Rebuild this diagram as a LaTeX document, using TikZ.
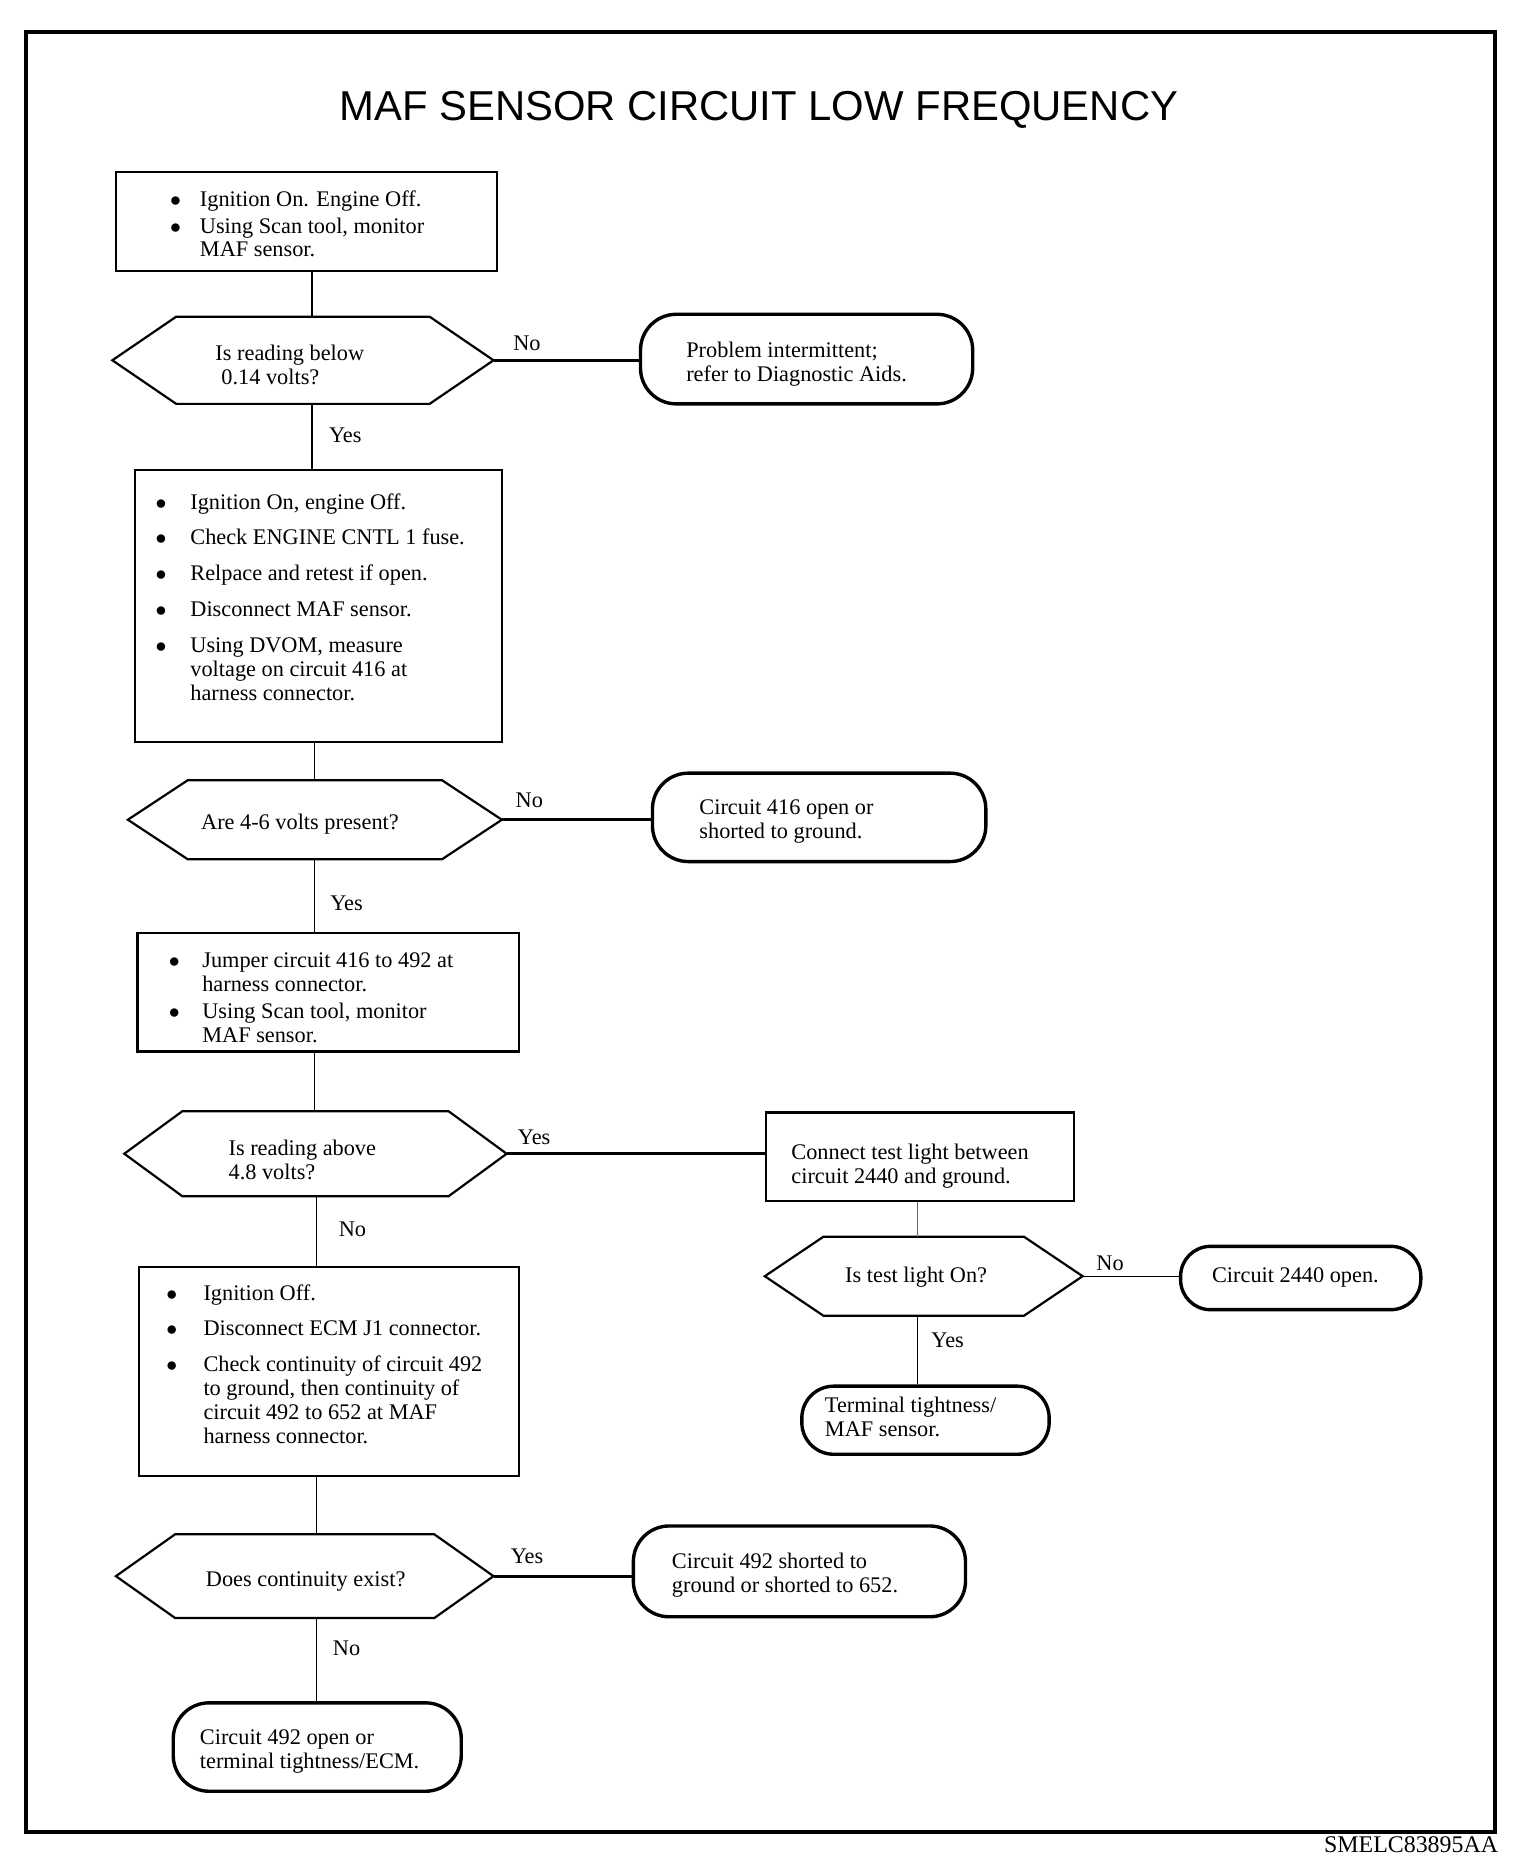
\documentclass[tikz,border=0pt]{standalone}
\usepackage{fontspec}
\setmainfont{Liberation Serif}
\newfontfamily\titlefont{Liberation Sans}
\usetikzlibrary{calc}
\newcommand\bul{$\bullet$}
% name, cx, cy, half body width, tip length, half height
\newcommand\hexnode[6]{%
  \node[hexbody, minimum width=2*#4*0.6pt, minimum height=2*#6*0.6pt] (#1) at (#2,#3) {};
  \coordinate (#1e) at ($(#1.east)+(#5,0)$);
  \coordinate (#1w) at ($(#1.west)+(-#5,0)$);
  \draw[hexline] (#1.north west) -- (#1.north east) -- (#1e) -- (#1.south east)
     -- (#1.south west) -- (#1w) -- cycle;
}
\begin{document}
\begin{tikzpicture}[x=0.6pt,y=-0.6pt,
  txt/.style={inner sep=0pt, anchor=base west, font=\fontsize{11.2}{12}\selectfont},
  lbl/.style={inner sep=0pt, font=\fontsize{11.2}{12}\selectfont},
  box/.style={draw, line width=1.1pt, inner sep=0pt},
  hexbody/.style={draw=none, rectangle, inner sep=0pt, outer sep=0pt},
  hexline/.style={line width=1.1pt, line join=miter},
  term/.style={draw, line width=1.7pt, inner sep=0pt},
  conv/.style={line width=0.7pt},
  conh/.style={line width=1.4pt},
  frame/.style={line width=2.2pt},
  sz/.style 2 args={minimum width=#1*0.6pt, minimum height=#2*0.6pt}
]
\useasboundingbox (0,0) rectangle (1272,1553.2);
\draw[frame] (22,27) rectangle (1251,1533);

\node[inner sep=0pt, anchor=base, font=\titlefont\fontsize{21}{24}\selectfont] (title) at (635,101) {MAF SENSOR CIRCUIT LOW FREQUENCY};
\node[inner sep=0pt, anchor=base east, font=\fontsize{12}{14}\selectfont] (code) at (1254,1550) {SMELC83895AA};

% spines for vertical connectors
\coordinate (sA) at (261,0);
\coordinate (sB) at (263,0);
\coordinate (sC) at (265,0);
\coordinate (sD) at (768,0);

% ---- boxes
\node[box, sz={319}{83}] (b1) at (256.5,185.5) {};
\node[txt] (b1t) at (142,173) {\begin{tabular}[t]{@{}p{15pt}@{}l@{}}\bul & Ignition On. Engine Off.\\[1.2pt]
\bul & Using Scan tool, monitor\\ & MAF sensor.\end{tabular}};

\hexnode{h1}{253.5}{301.5}{106}{53.5}{36.5}
\node[txt] (h1t) at (180,302) {\begin{tabular}[t]{@{}l@{}}Is reading below\\ \hspace*{3pt}0.14 volts?\end{tabular}};

\node[term, sz={278}{75}, rounded corners=18pt] (t1) at (675,300.5) {};
\node[txt] (t1t) at (574,299) {\begin{tabular}[t]{@{}l@{}}Problem intermittent;\\ refer to Diagnostic Aids.\end{tabular}};

\node[box, sz={307}{228}] (b2) at (266.5,507) {};
\node[txt] (b2t) at (130,426) {\begin{tabular}[t]{@{}p{17.4pt}@{}l@{}}\bul & Ignition On, engine Off.\\[6pt]
\bul & Check ENGINE CNTL 1 fuse.\\[6pt]
\bul & Relpace and retest if open.\\[6pt]
\bul & Disconnect MAF sensor.\\[6pt]
\bul & Using DVOM, measure\\ & voltage on circuit 416 at\\ & harness connector.\end{tabular}};

\hexnode{h2}{263.5}{686}{106.5}{50}{33}
\node[txt] (h2t) at (168,694) {Are 4-6 volts present?};

\node[term, sz={279}{74}, rounded corners=18pt] (t2) at (685.5,684) {};
\node[txt] (t2t) at (585,682) {\begin{tabular}[t]{@{}l@{}}Circuit 416 open or\\ shorted to ground.\end{tabular}};

\node[box, sz={319}{99}] (b3) at (274.5,830.5) {};
\node[txt] (b3t) at (141,810) {\begin{tabular}[t]{@{}p{16.8pt}@{}l@{}}\bul & Jumper circuit 416 to 492 at\\ & harness connector.\\[1.2pt]
\bul & Using Scan tool, monitor\\ & MAF sensor.\end{tabular}};

\hexnode{h3}{264}{965.5}{111.5}{48.5}{35.5}
\node[txt] (h3t) at (191,967) {\begin{tabular}[t]{@{}l@{}}Is reading above\\ 4.8 volts?\end{tabular}};

\node[box, sz={258}{74}] (b4) at (770,968) {};
\node[txt] (b4t) at (662,970) {\begin{tabular}[t]{@{}l@{}}Connect test light between\\ circuit 2440 and ground.\end{tabular}};

\hexnode{h4}{773}{1068}{84}{49}{33}
\node[txt] (h4t) at (707,1073) {Is test light On?};

\node[term, sz={201}{53}, rounded corners=15pt] (t4) at (1088.5,1069.5) {};
\node[txt] (t4t) at (1014,1073) {Circuit 2440 open.};

\node[term, sz={207}{57}, rounded corners=16pt] (t5) at (774.5,1188.5) {};
\node[txt] (t5t) at (690,1182) {\begin{tabular}[t]{@{}l@{}}Terminal tightness/\\ MAF sensor.\end{tabular}};

\node[box, sz={318}{175}] (b5) at (275,1147.5) {};
\node[txt] (b5t) at (139,1088) {\begin{tabular}[t]{@{}p{18.6pt}@{}l@{}}\bul & Ignition Off.\\[6pt]
\bul & Disconnect ECM J1 connector.\\[6pt]
\bul & Check continuity of circuit 492\\ & to ground, then continuity of\\ & circuit 492 to 652 at MAF\\ & harness connector.\end{tabular}};

\hexnode{h5}{255}{1319}{108.5}{49.5}{35}
\node[txt] (h5t) at (172,1328) {Does continuity exist?};

\node[term, sz={278}{76}, rounded corners=18pt] (t6) at (669,1315) {};
\node[txt] (t6t) at (562,1313) {\begin{tabular}[t]{@{}l@{}}Circuit 492 shorted to\\ ground or shorted to 652.\end{tabular}};

\node[term, sz={241}{74}, rounded corners=18pt] (t7) at (265.5,1462) {};
\node[txt] (t7t) at (167,1460) {\begin{tabular}[t]{@{}l@{}}Circuit 492 open or\\ terminal tightness/ECM.\end{tabular}};

% ---- connectors
\draw[conv] (b1.south -| sA) -- (h1.north -| sA);
\draw[conv] (h1.south -| sA) -- (b2.north -| sA);
\draw[conv] (b2.south -| sB) -- (h2.north -| sB);
\draw[conv] (h2.south -| sB) -- (b3.north -| sB);
\draw[conv] (b3.south -| sB) -- (h3.north -| sB);
\draw[conv] (h3.south -| sC) -- (b5.north -| sC);
\draw[conv] (b5.south -| sC) -- (h5.north -| sC);
\draw[conv] (h5.south -| sC) -- (t7.north -| sC);
\draw[line width=0.4pt, black!60] (b4.south -| sD) -- (h4.north -| sD);
\draw[conv] (h4.south -| sD) -- (t5.north -| sD);

\draw[conh] (h1e) -- (h1e -| t1.west);
\draw[conh] (h2e) -- (h2e -| t2.west);
\draw[conh] (h3e) -- (h3e -| b4.west);
\draw[conv] (h4e) -- (h4e -| t4.west);
\draw[conh] (h5e) -- (h5e -| t6.west);

% ---- labels
\node[lbl] (l1) at (441,287) {No};
\node[lbl] (l2) at (289,364) {Yes};
\node[lbl] (l3) at (443,670) {No};
\node[lbl] (l4) at (290,756) {Yes};
\node[lbl] (l5) at (447,952) {Yes};
\node[lbl] (l6) at (295,1029) {No};
\node[lbl] (l7) at (929,1057) {No};
\node[lbl] (l8) at (793,1122) {Yes};
\node[lbl] (l9) at (441,1302) {Yes};
\node[lbl] (l10) at (290,1379) {No};
\end{tikzpicture}
\end{document}
